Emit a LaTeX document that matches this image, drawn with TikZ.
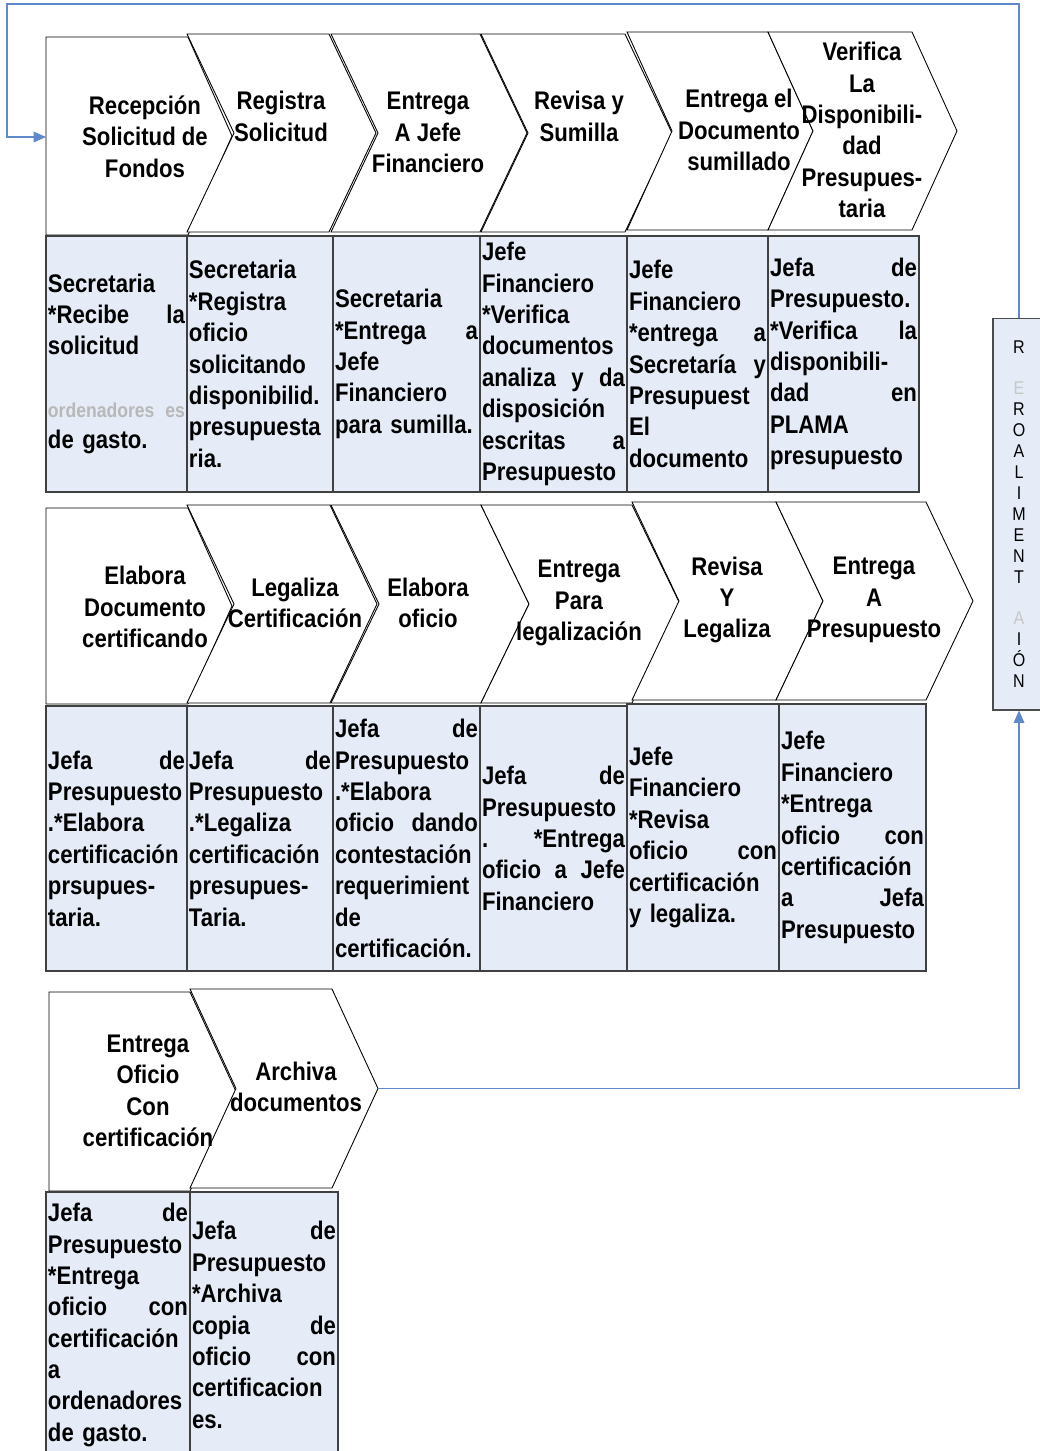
\documentclass[tikz,border=0pt]{standalone}
\usepackage{fontspec}
\setmainfont{Liberation Sans}[FakeStretch=0.87]
\usetikzlibrary{arrows.meta}
\definecolor{cellblue}{RGB}{229,236,247}
\definecolor{linkblue}{RGB}{96,137,204}
\tikzset{
  stepshape/.style={draw=black, fill=white, line width=0.5pt},
  steptext/.style={font=\fontsize{14.5}{17.86}\selectfont\bfseries, align=center, inner sep=0pt},
  cellbox/.style={draw=black!75, fill=cellblue, line width=0.6pt, inner xsep=0.04cm, inner ysep=0pt,
    align=left, font={\setlength{\parindent}{0pt}\fontsize{14.5}{17.86}\selectfont\bfseries}},
  fbbox/.style={draw=black!70, fill=cellblue, line width=0.6pt, minimum width=1.04cm, minimum height=7.84cm,
    align=center, inner sep=0pt, font=\fontsize{10.5}{11.9}\selectfont},
  fbline/.style={draw=linkblue, line width=0.7pt, -{Triangle[length=7pt,width=6pt]}}
}
\newcommand{\chevron}[5]{%
  \filldraw[stepshape] (#1,#2) -- (#3,#2) -- ({#3+#5},{(#2+#4)/2}) -- (#3,#4) -- (#1,#4)
    -- ({#1+#5},{(#2+#4)/2}) -- cycle;}
\newcommand{\homeplate}[5]{%
  \filldraw[stepshape] (#1,#2) -- (#3,#2) -- ({#3+#5},{(#2+#4)/2}) -- (#3,#4) -- (#1,#4) -- cycle;}
\newcommand{\cellnode}[6]{%
  \pgfmathsetmacro{\cellw}{(#3-#2)*0.02}%
  \pgfmathsetmacro{\cellh}{(#5-#4)*0.02}%
  \pgfmathsetmacro{\celltw}{(#3-#2)*0.02-0.08}%
  \node[cellbox, minimum width=\cellw cm, minimum height=\cellh cm, text width=\celltw cm]
    (#1) at ({(#2+#3)/2},{(#4+#5)/2}) {#6};}
\begin{document}
\begin{tikzpicture}[x=0.02cm, y=-0.02cm]
  \fill[white] (0,0) rectangle (1040,1451);
  \useasboundingbox (0,0) rectangle (1040,1451);

  \homeplate{46}{37}{188}{235}{44}
  \chevron{187}{34}{329}{232}{47}
  \chevron{331}{34}{480}{232}{47}
  \chevron{481}{34}{625}{232}{47}
  \chevron{627}{32}{768}{230}{45}
  \chevron{768}{32}{912}{230}{45}
  \node[steptext] (r1a) at (145,136.5) {Recepción\\Solicitud de\\Fondos};
  \node[steptext] (r1b) at (281,116.5) {Registra\\Solicitud};
  \node[steptext] (r1c) at (428,132.5) {Entrega\\A Jefe\\Financiero};
  \node[steptext] (r1d) at (579,116.5) {Revisa y\\Sumilla};
  \node[steptext] (r1e) at (739,130) {Entrega el\\Documento\\sumillado};
  \node[steptext] (r1f) at (862,130) {Verifica\\La\\Disponibili-\\dad\\Presupues-\\taria};

  \cellnode{c1a}{46}{187}{236}{492}{Secretaria\\{*}Recibe\hfill la\\solicitud\\~\\
    {\fontsize{11.5}{17.86}\selectfont\color{black!28}ordenadores\hfill es}\\de gasto.}
  \cellnode{c1b}{187}{333}{236}{492}{Secretaria\\{*}Registra\\oficio\\solicitando\\disponibilid.\\presupuesta\\ria.}
  \cellnode{c1c}{333}{480}{236}{492}{Secretaria\\{*}Entrega\hfill a\\Jefe\\Financiero\\para sumilla.}
  \cellnode{c1d}{480}{627}{236}{492}{Jefe\\Financiero\\{*}Verifica\\documentos\\analiza\hfill y\hfill da\\disposición\\escritas\hfill a\\Presupuesto}
  \cellnode{c1e}{627}{768}{236}{492}{Jefe\\Financiero\\{*}entrega\hfill a\\Secretaría\hfill y\\Presupuest\\El\\documento}
  \cellnode{c1f}{768}{919}{236}{492}{Jefa\hfill de\\Presupuesto.\\{*}Verifica\hfill la\\disponibili-\\dad\hfill en\\PLAMA\\presupuesto}

  \homeplate{46}{508}{188}{704}{44}
  \chevron{187}{505}{330}{703}{47}
  \chevron{331}{505}{481}{703}{48}
  \chevron{481}{505}{632}{703}{48}
  \chevron{632}{502}{776}{700}{47}
  \chevron{776}{502}{926}{700}{47}
  \node[steptext] (r2a) at (145,607) {Elabora\\Documento\\certificando};
  \node[steptext] (r2b) at (295,603) {Legaliza\\Certificación};
  \node[steptext] (r2c) at (428,603) {Elabora\\oficio};
  \node[steptext] (r2d) at (579,603) {Entrega\\Para\\legalización};
  \node[steptext] (r2e) at (727,600) {Revisa\\Y\\Legaliza};
  \node[steptext] (r2f) at (874,600) {Entrega\\A\\Presupuesto};

  \cellnode{c2a}{46}{187}{706}{971}{Jefa\hfill de\\Presupuesto\\.{*}Elabora\\certificación\\prsupues-\\taria.}
  \cellnode{c2b}{187}{333}{706}{971}{Jefa\hfill de\\Presupuesto\\.{*}Legaliza\\certificación\\presupues-\\Taria.}
  \cellnode{c2c}{333}{480}{706}{971}{Jefa\hfill de\\Presupuesto\\.{*}Elabora\\oficio\hfill dando\\contestación\\requerimient\\de\\certificación.}
  \cellnode{c2d}{480}{627}{706}{971}{Jefa\hfill de\\Presupuesto\\.\hfill {*}Entrega\\oficio\hfill a\hfill Jefe\\Financiero}
  \cellnode{c2e}{627}{779}{704}{971}{Jefe\\Financiero\\{*}Revisa\\oficio\hfill con\\certificación\\y legaliza.}
  \cellnode{c2f}{779}{926}{704}{971}{Jefe\\Financiero\\{*}Entrega\\oficio\hfill con\\certificación\\a\hfill Jefa\\Presupuesto}

  \homeplate{49}{992}{190}{1191}{46}
  \chevron{190}{989}{332}{1188}{46}
  \node[steptext] (r3a) at (148,1091) {Entrega\\Oficio\\Con\\certificación};
  \node[steptext] (r3b) at (296,1087) {Archiva\\documentos};

  \cellnode{c3a}{46}{190}{1192}{1458}{Jefa\hfill de\\Presupuesto\\{*}Entrega\\oficio\hfill con\\certificación\\a\\ordenadores\\de gasto.}
  \cellnode{c3b}{190}{338}{1192}{1458}{Jefa\hfill de\\Presupuesto\\{*}Archiva\\copia\hfill de\\oficio\hfill con\\certificacion\\es.}

  \node[fbbox] (fb) at (1019,514) {R\\~\\\textcolor{black!22}{E}\\R\\O\\A\\L\\I\\M\\E\\N\\T\\~\\\textcolor{black!22}{A}\\I\\Ó\\N};

  \coordinate (r1in) at (46,137);
  \coordinate (r3out) at (378,1088.5);
  \draw[fbline] (fb.north) |- (7,4) |- (r1in);
  \draw[fbline] (r3out) -| (fb.south);
\end{tikzpicture}
\end{document}
